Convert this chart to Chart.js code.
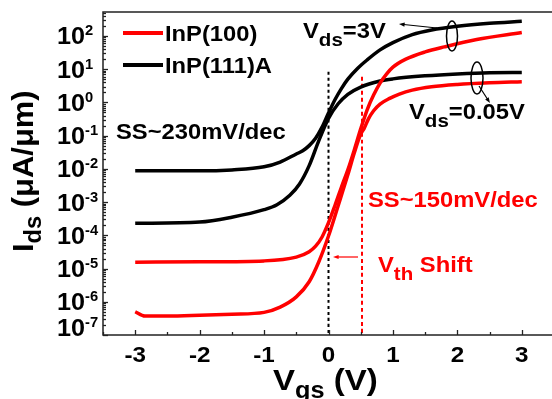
<!DOCTYPE html>
<html>
<head>
<meta charset="utf-8">
<script src="https://cdn.jsdelivr.net/npm/chart.js@4.4.1/dist/chart.umd.min.js"></script>
<style>
  html, body { margin: 0; padding: 0; background: #fff; overflow: hidden; }
  #wrap { width: 552px; height: 399px; overflow: hidden; }
</style>
</head>
<body>
<div id="wrap"><canvas id="c" width="560" height="399"></canvas></div>
<script>
// transfer curves, Ids in uA/um
const vgsBlack3V = [-3, -2, -1.5, -1, -0.75, -0.5, -0.4, -0.3, -0.2, -0.1, 0, 0.1, 0.2, 0.3, 0.45, 0.6, 0.8, 1.0, 1.3, 1.6, 2.0, 2.5, 3.0];
const idsBlack3V = [8.7e-3, 8.7e-3, 9.3e-3, 1.15e-2, 1.6e-2, 2.8e-2, 3.5e-2, 5.0e-2, 8.3e-2, 0.18, 0.48, 1.2, 2.6, 5.0, 10.5, 19, 38, 63, 110, 151, 195, 240, 275];

const vgsBlack005 = [-3, -2, -1.5, -1, -0.8, -0.6, -0.45, -0.3, -0.15, 0, 0.15, 0.3, 0.5, 0.8, 1.0, 1.5, 2.0, 2.5, 3.0];
const idsBlack005 = [2.3e-4, 2.5e-4, 3.5e-4, 5.9e-4, 8.3e-4, 1.6e-3, 3.5e-3, 1.25e-2, 7.1e-2, 0.33, 0.91, 1.75, 2.9, 4.4, 5.1, 6.3, 7.2, 7.8, 7.9];

const vgsRed3V = [-3, -2, -1, -0.5, -0.3, -0.2, -0.1, 0, 0.1, 0.2, 0.3, 0.4, 0.5, 0.6, 0.7, 0.8, 0.9, 1.0, 1.2, 1.5, 1.8, 2.3, 3.0];
const idsRed3V = [1.55e-5, 1.6e-5, 1.7e-5, 2.2e-5, 3.2e-5, 4.7e-5, 8.9e-5, 2.4e-4, 7.9e-4, 2.8e-3, 9.3e-3, 3.7e-2, 0.16, 0.6, 1.66, 3.8, 7.1, 11.5, 20, 33, 46.8, 77.6, 126];

const vgsRed005 = [-3, -2.85, -2.5, -2, -1.5, -1, -0.75, -0.5, -0.3, -0.15, 0, 0.15, 0.3, 0.4, 0.5, 0.55, 0.62, 0.7, 0.8, 0.95, 1.1, 1.3, 1.6, 2.0, 2.5, 3.0];
const idsRed005 = [5.0e-7, 3.7e-7, 3.7e-7, 3.9e-7, 4.2e-7, 4.8e-7, 6.9e-7, 1.4e-6, 4.0e-6, 1.6e-5, 9.5e-5, 7.8e-4, 6.6e-3, 3.0e-2, 0.112, 0.16, 0.32, 0.56, 0.89, 1.32, 1.78, 2.34, 2.95, 3.47, 3.9, 4.2];

// threshold markers (Vgs, top of dashed line)
const vthBlack = [0, 8.3];
const vthRed = [0.52, 5.9];

const legendLabels = ["InP(100)", "InP(111)A"];
const xTickValues = [-3, -2, -1, 0, 1, 2, 3];
const yExponents = [2, 1, 0, -1, -2, -3, -4, -5, -6, -7];

const RED = "#ff0000";
const BLACK = "#000000";
const FONT = '"Liberation Sans", Arial, sans-serif';
const SX = 1.08; // the source figure is a bit stretched sideways

function pts(xs, ys) {
  return xs.map((x, i) => ({ x: x, y: ys[i] }));
}

// draws bold text pieces one after another, some of them shifted (sub/superscripts)
function richText(ctx, parts, x, y, color, sx) {
  sx = sx || SX;
  ctx.fillStyle = color;
  ctx.textAlign = "left";
  ctx.textBaseline = "alphabetic";
  for (const p of parts) {
    ctx.font = "bold " + p.s + "px " + FONT;
    const w = ctx.measureText(p.t).width * sx;
    ctx.save();
    ctx.translate(x, y + (p.dy || 0));
    ctx.scale(sx, 1);
    ctx.fillText(p.t, 0, 0);
    ctx.restore();
    x += w;
  }
  return x;
}

function arrow(ctx, x1, y1, x2, y2, color, lw, head) {
  const a = Math.atan2(y2 - y1, x2 - x1);
  ctx.strokeStyle = color;
  ctx.fillStyle = color;
  ctx.lineWidth = lw;
  ctx.beginPath();
  ctx.moveTo(x1, y1);
  ctx.lineTo(x2 - Math.cos(a) * head * 0.8, y2 - Math.sin(a) * head * 0.8);
  ctx.stroke();
  ctx.beginPath();
  ctx.moveTo(x2, y2);
  ctx.lineTo(x2 - head * Math.cos(a - 0.35), y2 - head * Math.sin(a - 0.35));
  ctx.lineTo(x2 - head * Math.cos(a + 0.35), y2 - head * Math.sin(a + 0.35));
  ctx.closePath();
  ctx.fill();
}

const decorations = {
  id: "decorations",
  afterDraw(chart) {
    const ctx = chart.ctx;
    const a = chart.chartArea;
    const xs = chart.scales.x;
    const ys = chart.scales.y;
    ctx.save();

    // frame
    ctx.strokeStyle = "#222";
    ctx.lineWidth = 1.5;
    ctx.strokeRect(a.left, a.top, a.right - a.left, a.bottom - a.top);

    // inward ticks on x
    ctx.lineWidth = 1.3;
    for (let v = -3.5; v <= 3.5001; v += 0.5) {
      const px = Math.round(xs.getPixelForValue(v)) + 0.5;
      const major = Math.abs(v - Math.round(v)) < 1e-6;
      ctx.beginPath();
      ctx.moveTo(px, a.bottom);
      ctx.lineTo(px, a.bottom - (major ? 5 : 3));
      ctx.stroke();
    }
    // inward ticks on y (log, with minors)
    for (let e = -7; e <= 2; e++) {
      for (let k = 1; k <= 9; k++) {
        const val = k * Math.pow(10, e);
        if (val > ys.max) break;
        const py = Math.round(ys.getPixelForValue(val)) + 0.5;
        ctx.beginPath();
        ctx.moveTo(a.left, py);
        ctx.lineTo(a.left + (k === 1 ? 5 : 3), py);
        ctx.stroke();
      }
    }

    // x tick labels
    ctx.font = "bold 22px " + FONT;
    for (const v of xTickValues) {
      const px = xs.getPixelForValue(v);
      const w = ctx.measureText(String(v)).width * 1.1;
      richText(ctx, [{ t: String(v), s: 22 }], px - w / 2, 362, BLACK, 1.1);
    }
    // y tick labels 10^n
    for (const e of yExponents) {
      let py = ys.getPixelForValue(Math.pow(10, e));
      if (e === -7) py -= 8;
      richText(ctx, [{ t: "10", s: 24 }, { t: String(e), s: 14, dy: -9 }], 57, py + 8.5, BLACK, 1.05);
    }

    // axis titles
    richText(ctx, [{ t: "V", s: 30 }, { t: "gs", s: 23, dy: 8 }, { t: " (V)", s: 30 }], 273, 390, BLACK, 1.1);
    ctx.save();
    ctx.translate(33, 252);
    ctx.rotate(-Math.PI / 2);
    richText(ctx, [{ t: "I", s: 30 }, { t: "ds", s: 23, dy: 8 }, { t: " (\u03bcA/\u03bcm)", s: 30 }], 0, 0, BLACK, 1.03);
    ctx.restore();

    // legend
    const ds = chart.data.datasets;
    [0, 1].forEach((i) => {
      const y = 33 + i * 32;
      ctx.strokeStyle = ds[i].borderColor;
      ctx.lineWidth = 4;
      ctx.beginPath();
      ctx.moveTo(123, y);
      ctx.lineTo(163, y);
      ctx.stroke();
      richText(ctx, [{ t: legendLabels[i], s: 22 }], 165, y + 8, BLACK);
    });

    // annotations
    richText(ctx, [{ t: "SS~230mV/dec", s: 22 }], 116, 139, BLACK);
    richText(ctx, [{ t: "SS~150mV/dec", s: 22 }], 368, 207, RED);
    richText(ctx, [{ t: "V", s: 22 }, { t: "ds", s: 19, dy: 8 }, { t: "=3V", s: 22 }], 303, 38, BLACK);
    richText(ctx, [{ t: "V", s: 22 }, { t: "ds", s: 19, dy: 8 }, { t: "=0.05V", s: 22 }], 409, 119, BLACK);
    richText(ctx, [{ t: "V", s: 22 }, { t: "th", s: 19, dy: 8 }, { t: " Shift", s: 22 }], 378, 272, RED);

    // bias ellipses and pointers
    ctx.strokeStyle = BLACK;
    ctx.lineWidth = 1.5;
    ctx.beginPath();
    ctx.ellipse(452, 36, 5.5, 15, 0, 0, Math.PI * 2);
    ctx.stroke();
    ctx.beginPath();
    ctx.ellipse(477, 78, 6, 16, 0, 0, Math.PI * 2);
    ctx.stroke();
    arrow(ctx, 437, 28, 399, 24, BLACK, 1.2, 6);
    arrow(ctx, 479, 86, 490, 103, BLACK, 1.2, 6);
    arrow(ctx, 358, 257, 333, 257, RED, 1.2, 6);

    ctx.restore();
  }
};

new Chart(document.getElementById("c"), {
  type: "line",
  data: {
    datasets: [
      { label: "InP(100) Vds=3V", data: pts(vgsRed3V, idsRed3V), borderColor: RED },
      { label: "InP(111)A Vds=3V", data: pts(vgsBlack3V, idsBlack3V), borderColor: BLACK },
      { label: "InP(100) Vds=0.05V", data: pts(vgsRed005, idsRed005), borderColor: RED },
      { label: "InP(111)A Vds=0.05V", data: pts(vgsBlack005, idsBlack005), borderColor: BLACK },
      { label: "Vth InP(111)A", data: [{ x: vthBlack[0], y: vthBlack[1] }, { x: vthBlack[0], y: 1e-7 }],
        borderColor: BLACK, borderWidth: 2, borderDash: [3, 3] },
      { label: "Vth InP(100)", data: [{ x: vthRed[0], y: vthRed[1] }, { x: vthRed[0], y: 1e-7 }],
        borderColor: RED, borderWidth: 2, borderDash: [4, 3] }
    ].map((d) => Object.assign({ borderWidth: 3.5, pointRadius: 0, fill: false, cubicInterpolationMode: "monotone" }, d))
  },
  options: {
    responsive: false,
    animation: false,
    devicePixelRatio: 1,
    layout: { padding: { left: 103, top: 12, right: 6, bottom: 64 } },
    plugins: { legend: { display: false }, tooltip: { enabled: false } },
    scales: {
      x: { type: "linear", min: -3.5, max: 3.5, display: false },
      y: { type: "logarithmic", min: 1e-7, max: 525, display: false }
    }
  },
  plugins: [decorations]
});
</script>
</body>
</html>
